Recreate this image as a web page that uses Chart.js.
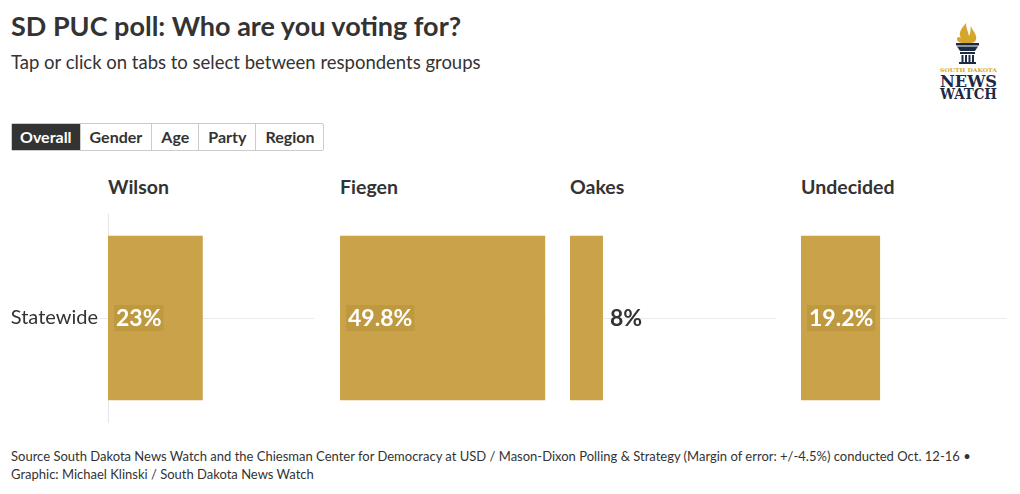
<!DOCTYPE html>
<html>
<head>
<meta charset="utf-8">
<script src="https://cdn.jsdelivr.net/npm/chart.js@4"></script>
<style>
  body { margin: 0; width: 1020px; height: 494px; background: #fff; font-family: Lato, "Noto Sans", sans-serif; color: #333; position: relative; overflow: hidden; }
  h1 { position: absolute; left: 11px; top: 9px; margin: 0; font-size: 27px; font-weight: 700; color: #333; letter-spacing: 0px; }
  .sub { position: absolute; left: 11px; top: 51px; font-size: 18.5px; color: #333; }
  .tabs { position: absolute; left: 11px; top: 123px; display: flex; height: 28px; border: 1px solid #ccc; border-radius: 2px; box-sizing: border-box; }
  .tabs div { font-size: 16px; font-weight: 700; padding: 0 9px; line-height: 26px; border-left: 1px solid #ccc; color: #333; }
  .tabs div:first-child { border-left: none; background: #333; color: #fff; padding: 0 8px; }
  .ptitle { position: absolute; top: 175px; font-size: 19.5px; font-weight: 700; color: #333; }
  canvas { position: absolute; }
  .foot { position: absolute; left: 11px; top: 447px; font-size: 13px; line-height: 18px; color: #333; }
  .logo { position: absolute; left: 936px; top: 20px; }
</style>
</head>
<body>
<h1>SD PUC poll: Who are you voting for?</h1>
<div class="sub">Tap or click on tabs to select between respondents groups</div>
<div class="tabs"><div>Overall</div><div>Gender</div><div>Age</div><div>Party</div><div>Region</div></div>

<svg class="logo" width="66" height="82" viewBox="0 0 66 82">
  <path d="M30 3 C25 9 22 13 25 18 C23 16 21 17 21 19 C21 22 24 23 28 23 L35 23 C39 23 41 20 40 16 C39 12 36 10 35 6 C34 10 35 13 33 16 C32 11 30 8 30 3 Z" fill="#d6a62c"/>
  <rect x="20" y="23" width="23" height="2.5" fill="#1d2a44"/>
  <path d="M21 26.5 L42 26.5 L39 31 L24 31 Z" fill="#1d2a44"/>
  <rect x="24" y="32" width="15" height="2" fill="#1d2a44"/>
  <rect x="25.5" y="35" width="2" height="7" fill="#1d2a44"/>
  <rect x="29" y="35" width="2" height="7" fill="#1d2a44"/>
  <rect x="32.5" y="35" width="2" height="7" fill="#1d2a44"/>
  <rect x="36" y="35" width="2" height="7" fill="#1d2a44"/>
  <rect x="23" y="42" width="17" height="2" fill="#1d2a44"/>
  <text x="4" y="52" font-family="DejaVu Serif" font-size="5" font-weight="700" fill="#d6a62c" textLength="57" lengthAdjust="spacingAndGlyphs">SOUTH DAKOTA</text>
  <text x="4" y="67" font-family="DejaVu Serif" font-size="17" font-weight="700" fill="#1d2a44" textLength="57" lengthAdjust="spacingAndGlyphs">NEWS</text>
  <text x="4" y="78.5" font-family="DejaVu Serif" font-size="14" font-weight="700" fill="#1d2a44" textLength="57" lengthAdjust="spacingAndGlyphs">WATCH</text>
</svg>

<div class="ptitle" style="left:108px">Wilson</div>
<div class="ptitle" style="left:340px">Fiegen</div>
<div class="ptitle" style="left:570px">Oakes</div>
<div class="ptitle" style="left:801px">Undecided</div>

<canvas id="c0" width="314" height="225" style="left:0px;top:205px"></canvas>
<canvas id="c1" width="206" height="225" style="left:340px;top:205px"></canvas>
<canvas id="c2" width="206" height="225" style="left:570px;top:205px"></canvas>
<canvas id="c3" width="206" height="225" style="left:801px;top:205px"></canvas>

<div class="foot">Source South Dakota News Watch and the Chiesman Center for Democracy at USD / Mason-Dixon Polling &amp; Strategy (Margin of error: +/-4.5%) conducted Oct. 12-16 •<br>Graphic: Michael Klinski / South Dakota News Watch</div>

<script>
// data
var groups = ["Statewide"];
var candidates = ["Wilson", "Fiegen", "Oakes", "Undecided"];
var wilson = [23];
var fiegen = [49.8];
var oakes = [8];
var undecided = [19.2];
var series = [wilson, fiegen, oakes, undecided];

var gold = "#c9a249";

// value labels, inside the bar when there is room
var barLabels = {
    id: 'barLabels',
    afterDatasetsDraw(chart) {
        var ctx = chart.ctx;
        var meta = chart.getDatasetMeta(0);
        meta.data.forEach((bar, i) => {
            var txt = chart.data.datasets[0].data[i] + "%";
            ctx.save();
            ctx.font = "bold 23px Lato";
            ctx.textBaseline = "middle";
            var w = ctx.measureText(txt).width;
            if (w + 10 < bar.x - bar.base) {
                ctx.fillStyle = "rgba(150,115,30,0.18)";
                ctx.fillRect(bar.base + 6, bar.y - 13, w + 4, 26);
                ctx.fillStyle = "#fff";
                ctx.fillText(txt, bar.base + 8, bar.y + 1);
            } else {
                ctx.fillStyle = "#333";
                ctx.fillText(txt, bar.x + 7, bar.y + 1);
            }
            ctx.restore();
        });
    }
};

series.forEach((vals, k) => {
    var first = k === 0;
    new Chart(document.getElementById('c' + k), {
        type: 'bar',
        data: {
            labels: groups,
            datasets: [{
                label: candidates[k],
                data: vals,
                backgroundColor: gold,
                barPercentage: 0.79,
                categoryPercentage: 1
            }]
        },
        options: {
            indexAxis: 'y',
            responsive: false,
            animation: false,
            layout: {
                padding: { top: 9, bottom: 8, right: 0, left: 0 }
            },
            plugins: {
                legend: { display: false },
                tooltip: { enabled: false }
            },
            scales: {
                x: {
                    display: false,
                    min: 0,
                    max: 50
                },
                y: {
                    afterFit: (s) => {
                        s.width = first ? 108 : 0;
                        s.paddingTop = 0;
                        s.paddingBottom = 0;
                    },
                    border: { display: first, color: "#e6e6e6" },
                    grid: {
                        offset: false,
                        color: "#ebebeb",
                        drawTicks: first,
                        tickLength: 8
                    },
                    ticks: {
                        display: first,
                        padding: 2,
                        color: "#333",
                        font: { family: "Lato", size: 20 }
                    }
                }
            }
        },
        plugins: [barLabels]
    });
});
</script>
</body>
</html>
